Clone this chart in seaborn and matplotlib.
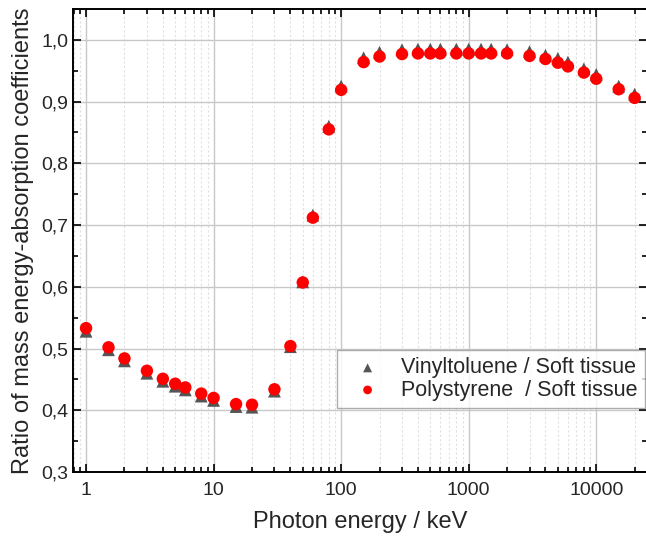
import numpy as np
import pandas as pd
import matplotlib
matplotlib.use('Agg')
import matplotlib.pyplot as plt
from matplotlib.ticker import LogLocator, MultipleLocator, FuncFormatter, NullFormatter
import seaborn as sns

energy = [1, 1.5, 2, 3, 4, 5, 6, 8, 10, 15, 20, 30, 40, 50, 60, 80, 100, 150, 200,
          300, 400, 500, 600, 800, 1000, 1250, 1500, 2000, 3000, 4000, 5000, 6000,
          8000, 10000, 15000, 20000]

vinyltoluene = [0.528, 0.498, 0.480, 0.460, 0.447, 0.439, 0.433, 0.423, 0.416, 0.406,
                0.405, 0.431, 0.503, 0.608, 0.716, 0.860, 0.925, 0.971, 0.980, 0.984,
                0.985, 0.985, 0.985, 0.985, 0.985, 0.985, 0.985, 0.984, 0.981, 0.975,
                0.970, 0.964, 0.953, 0.944, 0.925, 0.912]

polystyrene = [0.533, 0.502, 0.484, 0.464, 0.451, 0.443, 0.437, 0.427, 0.420, 0.410,
               0.409, 0.434, 0.504, 0.607, 0.712, 0.855, 0.919, 0.964, 0.973, 0.977,
               0.978, 0.978, 0.978, 0.978, 0.978, 0.978, 0.978, 0.978, 0.974, 0.969,
               0.963, 0.957, 0.947, 0.937, 0.920, 0.906]

labels = ['Vinyltoluene / Soft tissue', 'Polystyrene  / Soft tissue']

df = pd.DataFrame({'energy': energy, 'vt': vinyltoluene, 'ps': polystyrene})

sns.set_style('ticks')
plt.rcParams['font.family'] = ['Liberation Sans', 'DejaVu Sans']

fig = plt.figure(figsize=(6.46, 5.41), dpi=100)
ax = fig.add_axes([73 / 646, (541 - 472) / 541, (647 - 73) / 646, (472 - 9) / 541])

sns.scatterplot(data=df, x='energy', y='vt', ax=ax, marker='^', color='#555555',
                s=85, edgecolor='none', label=labels[0], zorder=3)
sns.scatterplot(data=df, x='energy', y='ps', ax=ax, marker='o', color='red',
                s=80, edgecolor='none', label=labels[1], zorder=4)

ax.set_xscale('log')
ax.set_xlim(0.79, 25000)
ax.set_ylim(0.3, 1.05)

ax.xaxis.set_major_locator(LogLocator(base=10, numticks=10))
ax.xaxis.set_minor_locator(LogLocator(base=10, subs=np.arange(2, 10), numticks=20))
ax.xaxis.set_major_formatter(FuncFormatter(lambda v, p: f'{v:g}'))
ax.xaxis.set_minor_formatter(NullFormatter())
ax.yaxis.set_major_locator(MultipleLocator(0.1))
ax.yaxis.set_minor_locator(MultipleLocator(0.05))
ax.yaxis.set_major_formatter(FuncFormatter(lambda v, p: f'{v:.1f}'.replace('.', ',')))

ax.grid(which='major', color='#c8c8c8', linewidth=1.0)
ax.grid(which='minor', axis='x', color='#e0e0e0', linewidth=0.8, linestyle=(0, (2, 2)))
ax.set_axisbelow(True)

ax.tick_params(which='both', direction='in', top=True, right=True, labelsize=14,
               width=1.2, color='black')
ax.tick_params(which='major', length=6)
ax.tick_params(which='minor', length=3.5)
ax.tick_params(axis='x', pad=7)
for sp in ax.spines.values():
    sp.set_linewidth(1.4)
    sp.set_color('black')

ax.set_xlabel('Photon energy / keV', fontsize=17, labelpad=9)
ax.set_ylabel('Ratio of mass energy-absorption coefficients', fontsize=17, labelpad=5)

leg = ax.legend(loc='lower right', bbox_to_anchor=(0.9965, 0.138), fontsize=15.5,
                frameon=True, fancybox=False, edgecolor='#999999', markerscale=0.7,
                handletextpad=0.5, borderpad=0.35, labelspacing=0.05,
                handlelength=2.1, borderaxespad=0)
leg.get_frame().set_linewidth(1.0)

fig.savefig('out.png', dpi=100)
